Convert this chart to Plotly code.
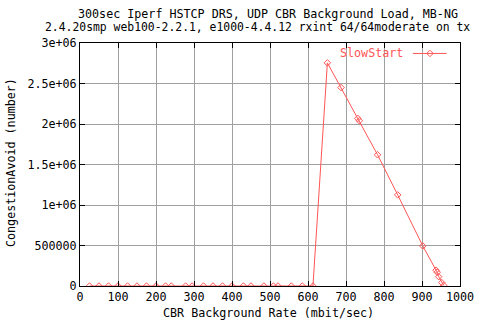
import plotly.graph_objects as go

rate = [25, 50, 75, 100, 125, 150, 175, 200, 225, 240, 278, 295, 325, 350, 375,
        400, 430, 450, 484, 509, 521, 556, 585, 613, 651, 687, 731, 735, 783, 836,
        902, 937, 940, 944, 952, 957]
slowstart = [0, 0, 0, 0, 0, 0, 0, 0, 0, 0, 0, 0, 0, 0, 0,
             0, 0, 0, 0, 0, 0, 0, 0, 0, 2.755e6, 2.45e6, 2.07e6, 2.04e6, 1.62e6, 1.125e6,
             0.495e6, 0.195e6, 0.17e6, 0.115e6, 0.042e6, 0.008e6]

x_ticks = [0, 100, 200, 300, 400, 500, 600, 700, 800, 900, 1000]
y_ticks = [0, 500000, 1000000, 1500000, 2000000, 2500000, 3000000]
y_tick_labels = ["0", "500000", "1e+06", "1.5e+06", "2e+06", "2.5e+06", "3e+06"]

RED = "#ff5555"
FONT = "DejaVu Sans Mono"
FS = 11.7

fig = go.Figure()
fig.add_trace(go.Scatter(
    x=rate, y=slowstart, mode="lines+markers", name="SlowStart",
    line=dict(color=RED, width=1),
    marker=dict(symbol="diamond-open", size=5, color=RED, line=dict(width=1, color=RED)),
    showlegend=False,
))

axis_common = dict(
    showline=True, linecolor="black", linewidth=1, mirror="ticks",
    ticks="inside", ticklen=5, tickcolor="black",
    showgrid=True, gridcolor="#a0a0a0", gridwidth=1, zeroline=False,
    tickfont=dict(family=FONT, size=FS, color="black"),
    automargin=False,
)

fig.update_xaxes(range=[0, 1000], tickvals=x_ticks, **axis_common)
fig.update_yaxes(range=[0, 3e6], tickvals=y_ticks, ticktext=y_tick_labels, **axis_common)

# axis titles
fig.add_annotation(x=0.497, y=-0.112, xref="paper", yref="paper", xanchor="center", yanchor="middle",
                   text="CBR Background Rate (mbit/sec)", showarrow=False,
                   font=dict(family=FONT, size=FS, color="black"))
fig.add_annotation(x=-0.183, y=0.508, xref="paper", yref="paper", xanchor="center", yanchor="middle",
                   text="CongestionAvoid (number)", textangle=-90, showarrow=False,
                   font=dict(family=FONT, size=FS, color="black"))

# legend drawn gnuplot-style (text left of sample)
fig.add_annotation(x=0.855, y=0.957, xref="paper", yref="paper", xanchor="right", yanchor="middle",
                   text="SlowStart", showarrow=False, font=dict(family=FONT, size=FS, color=RED))
fig.add_shape(type="line", xref="paper", yref="paper", x0=0.876, x1=0.965, y0=0.957, y1=0.957,
              line=dict(color=RED, width=1))
fig.add_trace(go.Scatter(x=[0.921], y=[0.957], xaxis="x2", yaxis="y2", mode="markers",
                         marker=dict(symbol="diamond-open", size=5, color=RED), showlegend=False,
                         hoverinfo="skip"))
fig.update_layout(
    xaxis2=dict(overlaying="x", range=[0, 1], visible=False),
    yaxis2=dict(overlaying="y", range=[0, 1], visible=False),
)

# two-line title
fig.add_annotation(x=0.496, y=1.119, xref="paper", yref="paper", xanchor="center", yanchor="middle",
                   text="300sec Iperf HSTCP DRS, UDP CBR Background Load, MB-NG",
                   showarrow=False, font=dict(family=FONT, size=FS, color="black"))
fig.add_annotation(x=-0.097, y=1.064, xref="paper", yref="paper", xanchor="left", yanchor="middle",
                   text="2.4.20smp web100-2.2.1, e1000-4.4.12 rxint 64/64moderate on tx",
                   showarrow=False, font=dict(family=FONT, size=11.4, color="black"))

fig.update_layout(
    width=480, height=320,
    margin=dict(l=80, r=20, t=43, b=34, autoexpand=False),
    paper_bgcolor="white", plot_bgcolor="white",
    showlegend=False,
)

# remove the browser's default 8px body margin so the figure fills the window exactly
fig.write_html("out.html",
               config={"displayModeBar": False},
               post_script="document.body.style.margin='0';document.body.style.overflow='hidden';")
